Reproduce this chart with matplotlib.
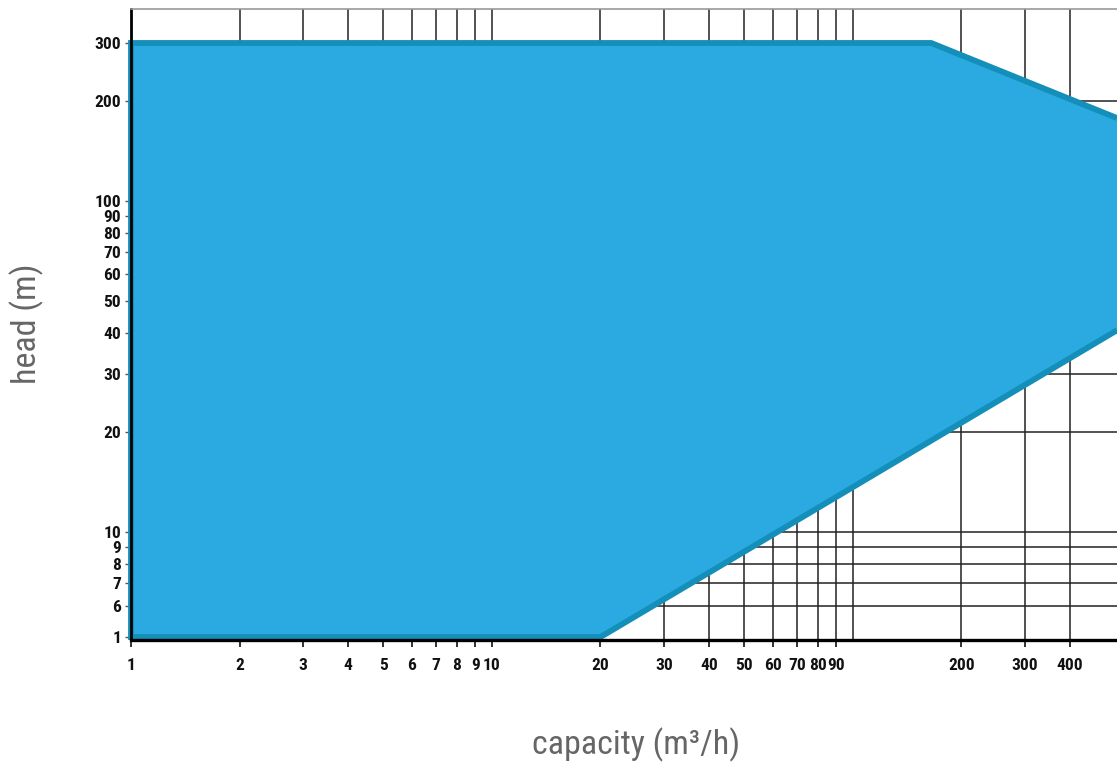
import numpy as np
import matplotlib
matplotlib.use("Agg")
import matplotlib.pyplot as plt
from matplotlib.ticker import FixedLocator, FixedFormatter, NullLocator
from matplotlib.patches import Polygon

# Operating range envelope (capacity m3/h, head m)
env_capacity = [1, 20, 540, 540, 165, 1]
env_head = [1, 1, 40.7, 178, 300, 300]

# Axis ticks
x_ticks = [1, 2, 3, 4, 5, 6, 7, 8, 9, 10, 20, 30, 40, 50, 60, 70, 80, 90, 200, 300, 400]
x_grid = [2, 3, 4, 5, 6, 7, 8, 9, 10, 20, 30, 40, 50, 60, 70, 80, 90, 100, 200, 300, 400]
y_ticks = [1, 6, 7, 8, 9, 10, 20, 30, 40, 50, 60, 70, 80, 90, 100, 200, 300]
y_grid = [6, 7, 8, 9, 10, 20, 30, 40, 50, 60, 70, 80, 90, 100, 200]

FILL = "#2aaae1"
EDGE = "#138fba"

# Head axis: logarithmic from 6 m upwards, compressed linear segment below
A = np.log10(4.82)
B = np.log10(6.0)


def fwd(y):
    y = np.asarray(y, dtype=float)
    with np.errstate(divide="ignore", invalid="ignore"):
        lg = np.log10(np.where(y > 0, y, 1e-9))
    lin = A + (y - 1.0) * (B - A) / 5.0
    return np.where(y >= 6, lg, lin)


def inv(v):
    v = np.asarray(v, dtype=float)
    lin = 1.0 + (v - A) * 5.0 / (B - A)
    return np.where(v >= B, 10.0 ** v, lin)


tick_font = ["Roboto Condensed", "DejaVu Sans"]
label_font = ["Roboto Condensed", "DejaVu Sans"]

fig = plt.figure(figsize=(11.17, 7.67), dpi=100)
ax = fig.add_axes([131 / 1117, 127 / 767, 986 / 1117, 631 / 767])
ax.set_xscale("log")
ax.set_yscale("function", functions=(fwd, inv))
ax.set_xlim(1, 540)
ax.set_ylim(0.53, 380)

# grid
for xv in x_grid:
    ax.axvline(xv, color="#222222", lw=1.1, zorder=1)
for yv in y_grid:
    ax.axhline(yv, color="#222222", lw=1.1, zorder=1)

# envelope
poly = Polygon(list(zip(env_capacity, env_head)), closed=True,
               facecolor=FILL, edgecolor="none", zorder=2)
ax.add_patch(poly)
outline_x = [env_capacity[3], env_capacity[4], env_capacity[5],
             env_capacity[0], env_capacity[1], env_capacity[2]]
outline_y = [env_head[3], env_head[4], env_head[5],
             env_head[0], env_head[1], env_head[2]]
ax.plot(outline_x, outline_y, color=EDGE, lw=4.2, solid_joinstyle="miter",
        solid_capstyle="butt", clip_on=False, zorder=3)

# ticks
ax.xaxis.set_major_locator(FixedLocator(x_ticks))
ax.xaxis.set_major_formatter(FixedFormatter([str(v) for v in x_ticks]))
ax.xaxis.set_minor_locator(NullLocator())
ax.yaxis.set_major_locator(FixedLocator(y_ticks))
ax.yaxis.set_major_formatter(FixedFormatter([str(v) for v in y_ticks]))
ax.yaxis.set_minor_locator(NullLocator())
ax.tick_params(axis="x", length=5, width=1.2, color="#111111", pad=8)
ax.tick_params(axis="y", length=4, width=1.0, color="#555555", pad=3)
for lab in ax.get_xticklabels() + ax.get_yticklabels():
    lab.set_family(tick_font)
    lab.set_fontweight("bold")
    lab.set_fontsize(12.5)
    lab.set_color("#111111")

# spines
ax.spines["left"].set_linewidth(2.0)
ax.spines["left"].set_color("#000000")
ax.spines["bottom"].set_linewidth(2.4)
ax.spines["bottom"].set_color("#000000")
ax.spines["top"].set_linewidth(1.2)
ax.spines["top"].set_color("#999999")
ax.spines["right"].set_visible(False)
for s in ax.spines.values():
    s.set_zorder(4)

fig.text(636 / 1117, 1 - 745 / 767, "capacity (m³/h)", ha="center", va="center",
         fontsize=24.5, color="#666666", family=label_font)
fig.text(27 / 1117, 1 - 324 / 767, "head (m)", ha="center", va="center",
         fontsize=24.5, color="#666666", family=label_font, rotation=90)

fig.savefig("out.png", dpi=100)
